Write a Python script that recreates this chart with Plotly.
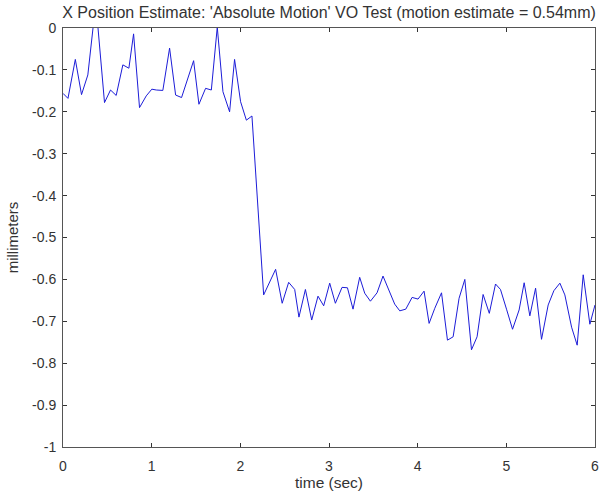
import plotly.graph_objects as go

# time (sec) and x position estimate (millimeters)
time_sec = [0.000, 0.056, 0.139, 0.209, 0.280, 0.370, 0.468, 0.536, 0.600, 0.675,
            0.743, 0.796, 0.863, 0.939, 1.002, 1.052, 1.126, 1.202, 1.270, 1.337,
            1.473, 1.533, 1.608, 1.673, 1.740, 1.804, 1.879, 1.935, 2.003, 2.068,
            2.131, 2.195, 2.263, 2.398, 2.472, 2.545, 2.613, 2.661, 2.734, 2.805,
            2.876, 2.940, 3.008, 3.072, 3.147, 3.208, 3.271, 3.346, 3.403, 3.467,
            3.542, 3.609, 3.674, 3.741, 3.798, 3.866, 3.937, 4.004, 4.072, 4.129,
            4.193, 4.269, 4.336, 4.400, 4.467, 4.532, 4.607, 4.670, 4.738, 4.808,
            4.878, 4.934, 5.002, 5.070, 5.144, 5.201, 5.265, 5.330, 5.397, 5.472,
            5.536, 5.604, 5.660, 5.736, 5.799, 5.867, 5.942, 6.000]
position_mm = [-0.156, -0.168, -0.075, -0.159, -0.112, 0.06, -0.178, -0.148, -0.161, -0.088,
               -0.096, -0.014, -0.190, -0.162, -0.146, -0.148, -0.149, -0.048, -0.160, -0.166,
               -0.078, -0.182, -0.144, -0.148, 0.002, -0.152, -0.200, -0.075, -0.176, -0.220,
               -0.210, -0.422, -0.637, -0.576, -0.657, -0.607, -0.624, -0.690, -0.624, -0.697,
               -0.640, -0.663, -0.609, -0.657, -0.619, -0.620, -0.671, -0.595, -0.633, -0.652,
               -0.632, -0.592, -0.625, -0.659, -0.675, -0.671, -0.643, -0.647, -0.628, -0.705,
               -0.669, -0.632, -0.745, -0.737, -0.645, -0.600, -0.768, -0.737, -0.636, -0.681,
               -0.611, -0.624, -0.671, -0.719, -0.673, -0.608, -0.687, -0.621, -0.743, -0.661,
               -0.627, -0.609, -0.637, -0.714, -0.757, -0.589, -0.707, -0.661]

x_tickvals = [0, 1, 2, 3, 4, 5, 6]
x_ticktext = ["0", "1", "2", "3", "4", "5", "6"]
y_tickvals = [0, -0.1, -0.2, -0.3, -0.4, -0.5, -0.6, -0.7, -0.8, -0.9, -1]
y_ticktext = ["0", "-0.1", "-0.2", "-0.3", "-0.4", "-0.5", "-0.6", "-0.7", "-0.8", "-0.9", "-1"]

title_text = "X Position Estimate: 'Absolute Motion' VO Test (motion estimate = 0.54mm)"

font_family = "Liberation Sans, Arial, sans-serif"
text_color = "#333333"

fig = go.Figure()
fig.add_trace(go.Scatter(
    x=time_sec, y=position_mm, mode="lines",
    line=dict(color="#1c1cd8", width=1),
    showlegend=False,
))

axis_common = dict(
    showgrid=False, zeroline=False, automargin=False,
    showline=True, linecolor="#555555", linewidth=1, mirror="ticks",
    ticks="inside", ticklen=4, tickcolor="#333333", tickwidth=1,
    tickfont=dict(family=font_family, size=14, color=text_color),
)

fig.update_layout(
    width=601, height=497,
    paper_bgcolor="white", plot_bgcolor="white",
    margin=dict(l=63, r=6, t=28, b=50, autoexpand=False),
    title=dict(text=title_text, x=0.5, xref="paper", y=1 - 12 / 497, yref="container",
               yanchor="middle", xanchor="center", automargin=False,
               font=dict(family=font_family, size=16, color=text_color)),
    xaxis=dict(range=[0, 6], tickvals=x_tickvals, ticktext=x_ticktext,
               ticklabelstandoff=6,
               title=dict(text="time (sec)", standoff=0,
                          font=dict(family=font_family, size=15.5, color=text_color)),
               **axis_common),
    yaxis=dict(range=[-1, 0], tickvals=y_tickvals, ticktext=y_ticktext,
               ticklabelstandoff=3,
               title=dict(text="millimeters", standoff=9,
                          font=dict(family=font_family, size=15, color=text_color)),
               **axis_common),
)

fig.write_html("out.html", config={"displayModeBar": False},
               post_script="document.body.style.margin='0';document.body.style.padding='0';")
